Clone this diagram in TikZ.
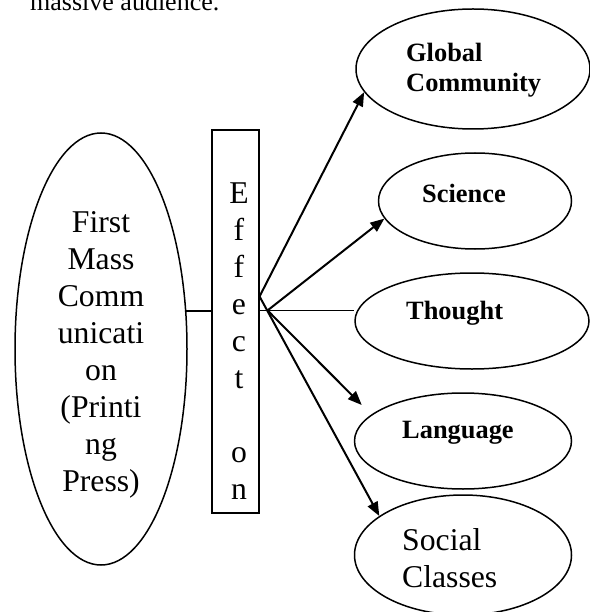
\documentclass[tikz,border=0pt]{standalone}
\usepackage{fontspec}
\setmainfont{Liberation Serif}
\usetikzlibrary{calc,arrows.meta,shapes.geometric,positioning}

\begin{document}
\begin{tikzpicture}[x=1pt, y=-1pt, font=\fontsize{31.7}{37}\selectfont]

\tikzset{
oval/.style={ellipse,draw=black,line width=1.5pt,inner sep=0pt},
effectbox/.style={draw=black,line width=1.1pt,inner sep=0pt},
spread/.style={-{Triangle[length=14pt,width=11pt]},line width=2pt},
link/.style={line width=1.5pt},
boldlab/.style={font=\fontsize{26.4}{30}\selectfont\bfseries,align=left,inner sep=0pt,anchor=west}
}

\useasboundingbox (0,0) rectangle (589,612);

% Nodes
\node[oval,minimum width=172pt,minimum height=432pt] (press) at (101,349) {};
\node[effectbox,minimum width=47pt,minimum height=383pt] (effect) at (235.5,321.5) {};

\node[oval,minimum width=234pt,minimum height=120pt] (global) at (473,69) {};
\node[oval,minimum width=193pt,minimum height=96pt] (science) at (475,201) {};
\node[oval,minimum width=234pt,minimum height=96pt] (thought) at (472,321) {};
\node[oval,minimum width=217pt,minimum height=96pt] (language) at (463,441) {};
\node[oval,minimum width=217pt,minimum height=120pt] (social) at (463,555) {};

\coordinate (hub) at ($(effect.north east) + (0,167)$);
\coordinate (fan) at ($(hub) + (8,14)$);
\coordinate (langtip) at ($(language.west) + (8,-36)$);


% Connectors
\draw[link] (press.24) -- (press.24 -| effect.west);
\draw[link] (effect.east |- fan) -- (thought.west |- fan);

\draw[spread] (hub) -- (global.192);
\draw[spread] (fan) -- (science.191);
\draw[spread] (fan) -- (langtip);
\draw[spread] (hub) -- (social.155);


% Labels
\node[anchor=base west,inner sep=0pt,font=\fontsize{26}{30}\selectfont] (caption) at (30,11) {massive audience.};

\node[align=center,inner sep=0pt] (labpress) at ($(press.center) + (0,6)$) {First\\Mass\\Comm\\unicati\\on\\(Printi\\ng\\Press)};
\node[align=center,inner sep=0pt] (labeffect) at ($(effect.center) + (3.5,19.5)$) {E\\f\\f\\e\\c\\t\\[37pt]o\\n};

\node[boldlab] (labglobal) at ($(global.center) + (-67,1)$) {Global\\Community};
\node[boldlab] (labscience) at ($(science.center) + (-53,-8)$) {Science};
\node[boldlab] (labthought) at ($(thought.center) + (-66,-8)$) {Thought};
\node[boldlab] (lablanguage) at ($(language.center) + (-61,-8)$) {Language};
\node[align=left,inner sep=0pt,anchor=west] (labsocial) at ($(social.center) + (-61,3)$) {Social\\Classes};

\end{tikzpicture}
\end{document}
